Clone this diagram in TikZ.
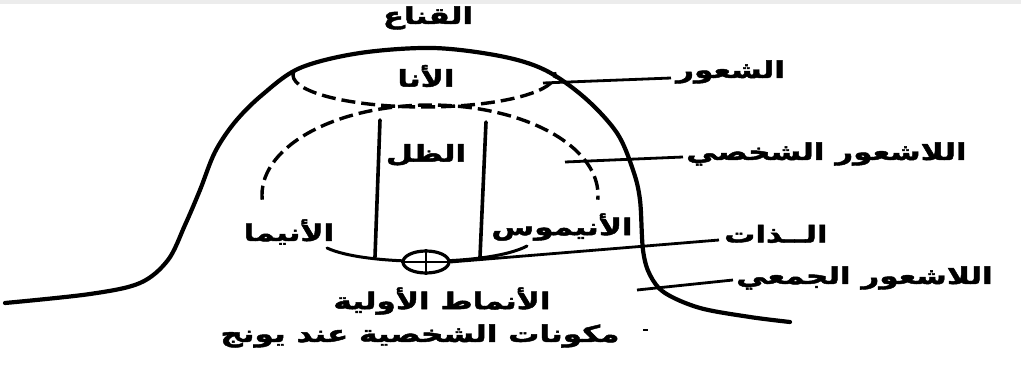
\documentclass[tikz,border=0pt]{standalone}
\usepackage{fontspec}
\usetikzlibrary{shapes.geometric,calc}
\newfontfamily\arabicfont[Script=Arabic, FakeStretch=1.35, BoldFeatures={FakeBold=2}]{DejaVu Sans}
\TeXXeTstate=1
\begin{document}
\begin{tikzpicture}[x=1pt,y=-1pt,
  lbl/.style={font=\arabicfont\bfseries\fontsize{23}{26}\selectfont, inner sep=0pt},
  thick line/.style={line width=4.2pt, line cap=round, line join=round},
  vline/.style={line width=3.6pt, line cap=round},
  dashline/.style={line width=3.4pt, dash pattern=on 14pt off 6pt},
  pointer/.style={line width=2.8pt}]
\useasboundingbox (0,0) rectangle (1021,367);
\fill[gray!15] (0,0) rectangle (1021,4);
% outline (persona)
\draw[thick line] plot[smooth, tension=0.55] coordinates {(5,303) (90,294) (140,283) (168,260) (185,225) (200,190) (215,152) (235,122) (262,95) (300,68) (360,53) (433,48) (500,56) (545,70) (585,98) (617,133) (633,170) (640,200) (643,250) (650,275) (665,293) (700,308) (750,317) (790,322)};
% ego ellipse (lower part)
\draw[dashline] (424,75) ++(185:131 and 32) arc[start angle=185, end angle=-5, x radius=131, y radius=32];
% personal unconscious arc
\draw[dashline] (430,195) ++(177:168 and 90) arc[start angle=177, end angle=363, x radius=168, y radius=90];
% vertical lines
\draw[vline] (380,120) -- (375,257);
\draw[vline] (486,122) -- (480,257);
% bottom arc
\draw[line width=3pt, line cap=round] (327,248) .. controls (365,266) and (490,266) .. (527,246);
% self
\node[draw, line width=3.2pt, fill=white, ellipse, minimum width=46pt, minimum height=22pt, inner sep=0pt] (selfc) at (426,262) {};
\draw[line width=2.8pt] (selfc.north) -- (selfc.south) (selfc.west) -- (selfc.east);
% labels
\node[lbl] (mask) at (428,18) {\beginR القناع\endR};
\node[lbl] (ego) at (426,76) {\beginR الأنا\endR};
\node[lbl, anchor=west] (cons) at (676,72) {\beginR الشعور\endR};
\node[lbl, anchor=west] (pu) at (686,154) {\beginR اللاشعور الشخصي\endR};
\node[lbl] (shadow) at (426,155) {\beginR الظل\endR};
\node[lbl] (anima) at (289,232) {\beginR الأنيما\endR};
\node[lbl] (animus) at (562,227) {\beginR الأنيموس\endR};
\node[lbl, anchor=west] (self) at (724,234) {\beginR الــذات\endR};
\node[lbl, anchor=west] (cu) at (736,278) {\beginR اللاشعور الجمعي\endR};
\node[lbl] (arch) at (442,301) {\beginR الأنماط الأولية\endR};
\node[lbl] (title) at (420,336) {\beginR مكونات الشخصية عند يونج\endR};
% pointers
\coordinate (p1) at (543,83);
\coordinate (p2) at (565,162);
\coordinate (p4) at (637,290);
\draw[pointer] (p1) -- ($(cons.west)+(-5,6)$);
\draw[pointer] (p2) -- ($(pu.west)+(-3,3)$);
\draw[pointer] (selfc.east) -- ($(self.west)+(-5,6)$);
\draw[pointer] (p4) -- ($(cu.west)+(-3,2)$);
\draw[line width=1.5pt] (643,330) -- (648,330);
\end{tikzpicture}
\end{document}
